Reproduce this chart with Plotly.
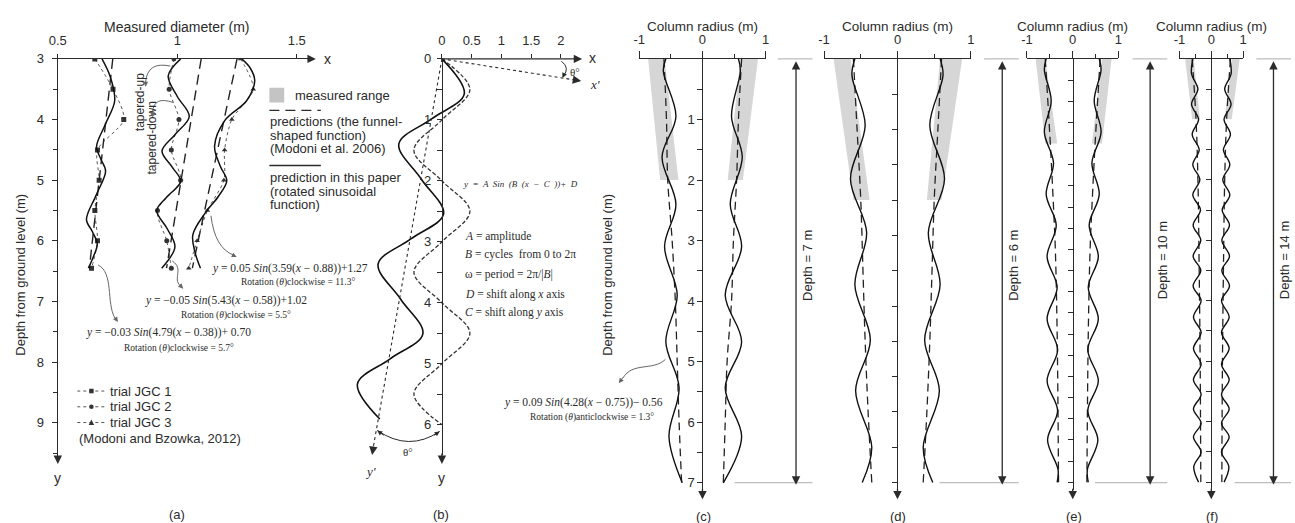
import plotly.graph_objects as go

W, H = 1295, 523

# ================= DATA =================
# ---- panel (a): measured diameter (m) vs depth (m) ----
a_meas_depth = [3.0, 3.5, 4.0, 4.5, 5.0, 5.5, 6.0, 6.45]
a_jgc1_meas = [0.655, 0.731, 0.776, 0.666, 0.673, 0.655, 0.666, 0.641]
a_jgc2_meas = [0.986, 0.966, 1.007, 0.975, 1.014, 0.917, 0.956, 0.975]
a_jgc3_meas = [1.265, 1.318, 1.228, 1.198, 1.195, 1.126, 1.083, 1.048]

a_fun_depth = [3.0, 6.45]
a_jgc1_fun = [0.73, 0.632]
a_jgc2_fun = [1.10, 0.955]
a_jgc3_fun = [1.25, 1.063]

a_jgc1_sin_depth = [3.0, 3.3, 3.69, 4.07, 4.45, 4.65, 4.85, 5.25, 5.65, 5.85, 6.05, 6.25, 6.45]
a_jgc1_sin = [0.685, 0.72, 0.738, 0.70, 0.662, 0.68, 0.70, 0.66, 0.62, 0.645, 0.665, 0.65, 0.628]
a_jgc2_sin_depth = [3.0, 3.28, 3.62, 3.95, 4.25, 4.52, 4.78, 5.02, 5.27, 5.5, 5.8, 6.1, 6.45]
a_jgc2_sin = [1.014, 0.962, 1.0, 1.05, 0.99, 0.936, 0.978, 1.014, 0.958, 0.914, 0.958, 0.99, 0.935]
a_jgc3_sin_depth = [3.0, 3.15, 3.36, 3.69, 4.01, 4.44, 4.77, 5.01, 5.26, 5.55, 5.9, 6.2, 6.45]
a_jgc3_sin = [1.27, 1.305, 1.324, 1.29, 1.2, 1.156, 1.18, 1.207, 1.173, 1.115, 1.065, 1.075, 1.097]

a_xticks = [0.5, 1, 1.5]
a_xticklabels = ["0.5", "1", "1.5"]
a_yticks = [3, 4, 5, 6, 7, 8, 9]

# ---- panel (b): definition sketch ----
b_dash_y = [0, 0.5, 1, 1.5, 2, 2.5, 3, 3.5, 4, 4.5, 5, 5.5, 6]
b_dash_x = [0, 0.47, 0, -0.47, 0, 0.47, 0, -0.47, 0, 0.47, 0, -0.47, 0]
b_sol_y = [0, 0.574, 0.985, 1.395, 1.97, 2.544, 2.954, 3.365, 3.939, 4.51, 4.92, 5.334, 5.908]
b_sol_x = [0, 0.376, -0.174, -0.724, -0.348, 0.028, -0.522, -1.072, -0.696, -0.32, -0.87, -1.42, -1.044]
b_xticks = [0, 0.5, 1, 1.5, 2]
b_xticklabels = ["0", "0.5", "1", "1.5", "2"]
b_yticks = [0, 1, 2, 3, 4, 5, 6]

# ---- panel (c): depth 7 m ----
c_gray_depth = [0, 2]
c_gray_left_outer = [-0.86, -0.67]
c_gray_left_inner = [-0.60, -0.38]
c_gray_right_inner = [0.60, 0.40]
c_gray_right_outer = [0.88, 0.64]
c_dash_depth = [0, 1, 2, 3, 4, 5, 6, 7]
c_dash_left = [-0.61, -0.57, -0.55, -0.48, -0.43, -0.40, -0.37, -0.33]
c_dash_right = [0.62, 0.57, 0.54, 0.49, 0.46, 0.39, 0.36, 0.33]
c_sol_depth = [0, 0.2, 0.95, 1.62, 2.4, 3.1, 3.9, 4.67, 5.43, 6.24, 7.0]
c_sol_left = [-0.58, -0.62, -0.42, -0.64, -0.42, -0.60, -0.40, -0.58, -0.37, -0.53, -0.32]
c_sol_right = [0.57, 0.60, 0.46, 0.63, 0.44, 0.62, 0.36, 0.62, 0.36, 0.62, 0.33]

# ---- panel (d): depth 6 m ----
d_gray_depth = [0, 2]
d_gray_left_outer = [-0.87, -0.60]
d_gray_left_inner = [-0.64, -0.38]
d_gray_right_inner = [0.58, 0.40]
d_gray_right_outer = [0.88, 0.60]
d_dash_depth = [0, 1, 2, 3, 4, 5, 6]
d_dash_left = [-0.60, -0.55, -0.50, -0.47, -0.44, -0.40, -0.35]
d_dash_right = [0.60, 0.55, 0.50, 0.47, 0.44, 0.40, 0.35]
d_sol_depth = [0, 0.23, 0.94, 1.7, 2.46, 3.2, 3.98, 4.7, 5.5, 6.0]
d_sol_left = [-0.58, -0.62, -0.44, -0.64, -0.42, -0.58, -0.37, -0.57, -0.35, -0.48]
d_sol_right = [0.58, 0.62, 0.44, 0.64, 0.42, 0.58, 0.37, 0.57, 0.35, 0.48]

# ---- panel (e): depth 10 m ----
e_gray_depth = [0, 2]
e_gray_left_outer = [-0.81, -0.60]
e_gray_left_inner = [-0.60, -0.34]
e_gray_right_inner = [0.64, 0.42]
e_gray_right_outer = [0.85, 0.64]
e_dash_depth = [0, 2, 3.5, 4.5, 6.5, 10]
e_dash_left = [-0.60, -0.49, -0.42, -0.38, -0.34, -0.31]
e_dash_right = [0.60, 0.49, 0.42, 0.38, 0.34, 0.31]
e_sol_depth = [0, 0.26, 0.99, 1.73, 2.46, 3.2, 3.93, 4.67, 5.4, 6.14, 6.87, 7.6, 8.31, 9.0, 9.7, 10.0]
e_sol_left = [-0.58, -0.62, -0.47, -0.62, -0.42, -0.58, -0.36, -0.56, -0.34, -0.56, -0.33, -0.56, -0.33, -0.55, -0.32, -0.34]
e_sol_right = [0.58, 0.62, 0.47, 0.62, 0.42, 0.58, 0.36, 0.56, 0.34, 0.56, 0.33, 0.56, 0.33, 0.55, 0.32, 0.34]

# ---- panel (f): depth 14 m ----
f_gray_depth = [0, 2]
f_gray_left_outer = [-0.82, -0.60]
f_gray_left_inner = [-0.55, -0.36]
f_gray_right_inner = [0.64, 0.42]
f_gray_right_outer = [0.89, 0.64]
f_dash_depth = [0, 2, 4, 7, 10, 14]
f_dash_left = [-0.60, -0.48, -0.42, -0.38, -0.35, -0.33]
f_dash_right = [0.60, 0.48, 0.42, 0.38, 0.35, 0.33]
f_sol_depth = [0, 0.5, 1.0, 1.5, 2.0, 2.5, 3.0, 3.5, 4.0, 4.5, 5.0, 5.5, 6.0, 6.53, 7.0, 7.51, 8.0, 8.54,
               9.05, 9.58, 10.1, 10.61, 11.1, 11.58, 12.05, 12.51, 13.0, 13.49, 14.0]
f_sol_left = [-0.58, -0.62, -0.42, -0.62, -0.40, -0.60, -0.38, -0.58, -0.36, -0.58, -0.34, -0.57, -0.33, -0.57,
              -0.33, -0.57, -0.32, -0.56, -0.32, -0.56, -0.32, -0.56, -0.32, -0.56, -0.32, -0.56, -0.32, -0.55, -0.40]
f_sol_right = [0.58, 0.62, 0.42, 0.62, 0.40, 0.60, 0.38, 0.58, 0.36, 0.58, 0.34, 0.57, 0.33, 0.57,
               0.33, 0.57, 0.32, 0.56, 0.32, 0.56, 0.32, 0.56, 0.32, 0.56, 0.32, 0.56, 0.32, 0.55, 0.40]

col_xticks = [-1, 0, 1]
col_xticklabels = ["-1", "0", "1"]

# ================= STYLE / LAYOUT HELPERS =================
SANS = "Liberation Sans, Arial, sans-serif"
SERIF = "Liberation Serif, Times New Roman, serif"
INK = "#2b2b2b"
GRAYFILL = "#d6d6d6"
GRAYLINE = "#bdbdbd"


def fx(p):
    return p / W


def fy(p):
    return 1 - p / H


fig = go.Figure()
layout = dict(width=W, height=H, margin=dict(l=0, r=0, t=0, b=0),
              paper_bgcolor="white", plot_bgcolor="rgba(0,0,0,0)", showlegend=False,
              font=dict(family=SANS, size=13, color=INK))
annotations = []
shapes = []


def axes(xpx, x0px, xsc, x0v, ypx, y0px, ysc, y0v):
    xr = [x0v + (xpx[0] - x0px) / xsc, x0v + (xpx[1] - x0px) / xsc]
    yr = [y0v + (ypx[1] - y0px) / ysc, y0v + (ypx[0] - y0px) / ysc]
    return dict(domain=[fx(xpx[0]), fx(xpx[1])], range=xr), dict(domain=[fy(ypx[1]), fy(ypx[0])], range=yr)


def base_ax():
    return dict(showgrid=False, zeroline=False, linecolor=INK, linewidth=1.3, tickcolor=INK,
                tickwidth=1.2, tickfont=dict(size=13, color=INK, family=SANS), fixedrange=True)


def text(x, y, s, size=13, xanchor="center", font=SANS, angle=0, color=INK):
    annotations.append(dict(x=fx(x), y=fy(y), xref="paper", yref="paper", text=s, showarrow=False,
                            xanchor=xanchor, yanchor="middle", textangle=angle,
                            font=dict(size=size, family=font, color=color)))


def arrow(x0, y0, x1, y1, width=1.3, size=1.4, color=INK, both=False, head=2):
    annotations.append(dict(x=fx(x1), y=fy(y1), xref="paper", yref="paper", ax=x0 - x1, ay=y0 - y1,
                            axref="pixel", ayref="pixel", text="", showarrow=True, arrowhead=head,
                            startarrowhead=head, arrowsize=size, startarrowsize=size,
                            arrowwidth=width, arrowcolor=color,
                            arrowside="end+start" if both else "end", standoff=0, startstandoff=0))


def line(x0, y0, x1, y1, color=INK, width=1.3, dash="solid"):
    shapes.append(dict(type="line", xref="paper", yref="paper", x0=fx(x0), y0=fy(y0), x1=fx(x1), y1=fy(y1),
                       line=dict(color=color, width=width, dash=dash)))


def path(pts_cmd, color=INK, width=1.0, dash="solid"):
    s = ""
    for cmd, pts in pts_cmd:
        s += cmd + " " + " ".join(f"{fx(a):.5f},{fy(b):.5f}" for a, b in pts) + " "
    shapes.append(dict(type="path", xref="paper", yref="paper", path=s.strip(),
                       line=dict(color=color, width=width, dash=dash)))


def add_line(xa, ya, x, y, color="#111", width=1.4, dash="solid", spline=True, mode="lines",
             marker=None, smoothing=1.0):
    fig.add_trace(go.Scatter(x=x, y=y, xaxis=xa, yaxis=ya, mode=mode, hoverinfo="skip",
                             line=dict(color=color, width=width, dash=dash,
                                       shape="spline" if spline else "linear", smoothing=smoothing),
                             marker=marker or {}))


# ================= PANEL (a) =================
xa, ya = axes((49.3, 305), 49.3, 241.4, 0.5, (52.7, 459), 52.7, 61.6, 3.0)
xa.update(base_ax(), side="top", anchor="y", showline=True, ticks="outside", ticklen=4,
          tickvals=a_xticks, ticktext=a_xticklabels, ticklabelstandoff=4)
ya.update(base_ax(), anchor="x", showline=True, ticks="outside", ticklen=5, tickvals=a_yticks,
          ticklabelstandoff=5,
          minor=dict(tickvals=[v + 0.5 for v in a_yticks], ticklen=4, tickcolor=INK, ticks="outside"))
layout["xaxis"], layout["yaxis"] = xa, ya

for meas, sym in ((a_jgc1_meas, "square"), (a_jgc2_meas, "circle"), (a_jgc3_meas, "triangle-up")):
    add_line("x", "y", meas, a_meas_depth, color="#555", width=1.0, dash="dot", mode="lines+markers",
             marker=dict(symbol=sym, size=5, color="#333"), smoothing=0.8)
for fun in (a_jgc1_fun, a_jgc2_fun, a_jgc3_fun):
    add_line("x", "y", fun, a_fun_depth, color="#222", width=1.4, dash="10px,6px", spline=False)
for d, v in ((a_jgc1_sin_depth, a_jgc1_sin), (a_jgc2_sin_depth, a_jgc2_sin), (a_jgc3_sin_depth, a_jgc3_sin)):
    add_line("x", "y", v, d, color="#111", width=1.5)

arrow(300, 52.7, 310, 52.7, size=1.3)
arrow(49.3, 455, 49.3, 464, size=1.3)
text(170, 20, "Measured diameter (m)", size=14)
text(316, 53, "x", xanchor="left", size=14)
text(49.3, 478, "y", size=14)
text(12, 272, "Depth from ground level (m)", angle=-90)
text(132, 97, "tapered-up", size=12, angle=-90)
text(144, 133, "tapered-down", size=12, angle=-90)

# legend (top right of a)
shapes.append(dict(type="rect", xref="paper", yref="paper", x0=fx(263), x1=fx(278), y0=fy(97), y1=fy(82),
                   fillcolor="#c4c4c4", line=dict(width=0)))
text(287, 90, "measured range", xanchor="left")
line(263, 105, 315, 105, dash="10px,6px", width=1.4)
text(262, 116, "predictions (the funnel-", xanchor="left")
text(262, 130, "shaped function)", xanchor="left")
text(262, 144, "(Modoni et al. 2006)", xanchor="left")
line(263, 161, 315, 161, width=1.4)
text(262, 173, "prediction in this paper", xanchor="left")
text(262, 187, "(rotated sinusoidal", xanchor="left")
text(262, 201, "function)", xanchor="left")

# legend (bottom of a)
for i, (lab, sym) in enumerate((("trial JGC 1", "sq"), ("trial JGC 2", "ci"), ("trial JGC 3", "tr"))):
    yy = 390 + i * 16
    line(69, yy, 97, yy, color="#555", width=1.0, dash="dot")
    if sym == "sq":
        shapes.append(dict(type="rect", xref="paper", yref="paper", x0=fx(81), x1=fx(85.5), y0=fy(yy + 2.3),
                           y1=fy(yy - 2.3), fillcolor="#333", line=dict(width=0)))
    elif sym == "ci":
        shapes.append(dict(type="circle", xref="paper", yref="paper", x0=fx(81), x1=fx(85.5), y0=fy(yy + 2.3),
                           y1=fy(yy - 2.3), fillcolor="#333", line=dict(width=0)))
    else:
        shapes.append(dict(type="path", xref="paper", yref="paper",
                           path=f"M {fx(80.5)},{fy(yy + 2.5)} L {fx(86)},{fy(yy + 2.5)} L {fx(83.2)},{fy(yy - 3)} Z",
                           fillcolor="#333", line=dict(width=0)))
    text(100, yy, lab, xanchor="left")
text(69, 438, "(Modoni and Bzowka, 2012)", xanchor="left")

# equations (a)
text(284, 266, "<i>y</i> = 0.05 <i>Sin</i>(3.59(<i>x</i> − 0.88))+1.27", size=11.5, font=SERIF)
text(292, 280, "Rotation (<i>θ</i>)clockwise = 11.3°", size=9.5, font=SERIF)
text(219, 298, "<i>y</i> = −0.05 <i>Sin</i>(5.43(<i>x</i> − 0.58))+1.02", size=11.5, font=SERIF)
text(229, 313, "Rotation (<i>θ</i>)clockwise = 5.5°", size=9.5, font=SERIF)
text(161, 331, "<i>y</i> = −0.03 <i>Sin</i>(4.79(<i>x</i> − 0.38))+ 0.70", size=11.5, font=SERIF)
text(172, 347, "Rotation (<i>θ</i>)clockwise = 5.7°", size=9.5, font=SERIF)

# curved arrows (a)
path([("M", [(163, 60)]), ("Q", [(140, 55), (138, 76)])], color="#666")
arrow(138, 74, 138, 81, width=1.0, size=1.0, color="#666")
path([("M", [(166, 97)]), ("Q", [(146, 90), (145, 107)])], color="#666")
arrow(145, 105, 145, 112, width=1.0, size=1.0, color="#666")
path([("M", [(204, 212)]), ("Q", [(208, 245), (227, 252)])], color="#666")
arrow(224, 251, 230, 254, width=1.0, size=1.0, color="#666")
path([("M", [(165, 258)]), ("C", [(177, 266), (165, 276), (173, 283)])], color="#666")
arrow(171, 281, 176, 286, width=1.0, size=1.0, color="#666")
path([("M", [(90, 262)]), ("C", [(106, 270), (98, 300), (107, 316)])], color="#666")
arrow(106, 314, 110, 320, width=1.0, size=1.0, color="#666")
text(170, 515, "(a)")

# ================= PANEL (b) =================
xb, yb = axes((340, 575), 437.3, 60.1, 0.0, (52.7, 455), 52.7, 61.9, 0.0)
xb.update(base_ax(), side="top", anchor="y2", showline=False, ticks="outside", ticklen=4,
          tickvals=b_xticks, ticktext=b_xticklabels, ticklabelstandoff=4)
yb.update(base_ax(), anchor="free", position=fx(437.3), showline=True, ticks="outside", ticklen=5,
          tickvals=b_yticks, ticklabelstandoff=3,
          minor=dict(tickvals=[v + 0.5 for v in b_yticks[:-1]], ticklen=5, tickcolor=INK, ticks="outside"))
layout["xaxis2"], layout["yaxis2"] = xb, yb
add_line("x2", "y2", b_dash_x, b_dash_y, color="#333", width=1.3, dash="4px,2px")
add_line("x2", "y2", b_sol_x, b_sol_y, color="#111", width=1.6)

line(437.3, 52.7, 572, 52.7, width=1.3)
arrow(570, 52.7, 579, 52.7, size=1.3)
line(437.3, 52.7, 572, 74.2, width=1.1, dash="dot")
arrow(570, 73.9, 578, 75.2, size=1.3)
line(437.3, 52.7, 368, 447, width=1.1, dash="dot")
arrow(368.3, 445, 366.8, 455, size=1.3)
arrow(437.3, 452, 437.3, 464, size=1.3)
text(584, 52, "x", xanchor="left", size=14)
text(585, 79, "<i>x'</i>", xanchor="left", font=SERIF, size=13)
path([("M", [(558, 55)]), ("Q", [(567, 62), (560, 70)])], width=1.0)
arrow(561, 68, 559, 72, width=1.0, size=1.0)
text(572, 66, "θ°", size=11, font=SERIF)
path([("M", [(372, 430)]), ("Q", [(404, 452), (435, 431)])], width=1.0)
arrow(380, 436, 372, 430, width=1.0, size=1.0)
arrow(428, 436, 435, 431, width=1.0, size=1.0)
text(403, 452, "θ°", size=11, font=SERIF)
text(365, 472, "<i>y'</i>", font=SERIF, size=13)
text(437.3, 478, "y", size=14)
text(457, 180, "<i>y  =  A  Sin  (B  (x  −  C  ))+  D</i>", size=9, font=SERIF, xanchor="left")
text(459, 233, "<i>A</i> = amplitude", size=11.5, font=SERIF, xanchor="left")
text(459, 251, "<i>B</i> = cycles  from 0 to 2π", size=11.5, font=SERIF, xanchor="left")
text(459, 272, "ω = period = 2π/|<i>B</i>|", size=11.5, font=SERIF, xanchor="left")
text(459, 292, "<i>D</i> = shift along <i>x</i> axis", size=11.5, font=SERIF, xanchor="left")
text(459, 310, "<i>C</i> = shift along <i>y</i> axis", size=11.5, font=SERIF, xanchor="left")
text(436, 515, "(b)")

# ================= PANELS (c)-(f) =================
col_panels = [
    dict(n=3, xl=636.7, xr=764.3, x0=700.5, xs=63.8, ys=61.5, depth=7, step=0.5, labels=True,
         gd=c_gray_depth, glo=c_gray_left_outer, gli=c_gray_left_inner, gri=c_gray_right_inner,
         gro=c_gray_right_outer, dd=c_dash_depth, dl=c_dash_left, dr=c_dash_right,
         sd=c_sol_depth, sl=c_sol_left, sr=c_sol_right, arx=795, gtop=(776.7, 811.7), gbot=(733, 811.7),
         lab="Depth = 7 m", labx=807, laby=262, tag="(c)"),
    dict(n=4, xl=823.3, xr=971.7, x0=897.5, xs=74.2, ys=71.7, depth=6, step=0.5, labels=False,
         gd=d_gray_depth, glo=d_gray_left_outer, gli=d_gray_left_inner, gri=d_gray_right_inner,
         gro=d_gray_right_outer, dd=d_dash_depth, dl=d_dash_left, dr=d_dash_right,
         sd=d_sol_depth, sl=d_sol_left, sr=d_sol_right, arx=1003.3, gtop=(985, 1020), gbot=(940, 1020),
         lab="Depth = 6 m", labx=1015, laby=262, tag="(d)"),
    dict(n=5, xl=1028.3, xr=1120.7, x0=1074.5, xs=46.2, ys=43.0, depth=10, step=0.5, labels=False,
         gd=e_gray_depth, glo=e_gray_left_outer, gli=e_gray_left_inner, gri=e_gray_right_inner,
         gro=e_gray_right_outer, dd=e_dash_depth, dl=e_dash_left, dr=e_dash_right,
         sd=e_sol_depth, sl=e_sol_left, sr=e_sol_right, arx=1152.7, gtop=(1135, 1170), gbot=(1097, 1170),
         lab="Depth = 10 m", labx=1165, laby=257, tag="(e)"),
    dict(n=6, xl=1182.3, xr=1246.7, x0=1214.5, xs=32.2, ys=30.7, depth=14, step=1.0, labels=False,
         gd=f_gray_depth, glo=f_gray_left_outer, gli=f_gray_left_inner, gri=f_gray_right_inner,
         gro=f_gray_right_outer, dd=f_dash_depth, dl=f_dash_left, dr=f_dash_right,
         sd=f_sol_depth, sl=f_sol_left, sr=f_sol_right, arx=1277.3, gtop=(1260, 1295), gbot=(1238, 1295),
         lab="Depth = 14 m", labx=1288, laby=257, tag="(f)"),
]

for p in col_panels:
    n = p["n"]
    xk, yk = f"x{n}", f"y{n}"
    xax, yax = axes((p["xl"], p["xr"]), p["x0"], p["xs"], 0.0, (52.7, 490), 52.7, p["ys"], 0.0)
    xax.update(base_ax(), side="top", anchor=yk, showline=True, ticks="outside", ticklen=7,
               tickvals=col_xticks, ticktext=col_xticklabels, ticklabelstandoff=2,
               minor=dict(tickvals=[-0.5, 0.5], ticklen=4, tickcolor=INK, ticks="outside"))
    nt = int(round(p["depth"] / p["step"]))
    tv = [round(p["step"] * (i + 1), 2) for i in range(nt)]
    if p["labels"]:
        yax.update(base_ax(), anchor="free", position=fx(p["x0"]), showline=True, ticks="outside", ticklen=5,
                   tickvals=tv, ticktext=[str(int(v)) if float(v).is_integer() else "" for v in tv])
    else:
        yax.update(base_ax(), anchor="free", position=fx(p["x0"]), showline=True, ticks="outside", ticklen=5,
                   tickvals=tv, showticklabels=False)
    layout[f"xaxis{n}"], layout[f"yaxis{n}"] = xax, yax
    for outer, inner in ((p["glo"], p["gli"]), (p["gro"], p["gri"])):
        fig.add_trace(go.Scatter(x=outer + inner[::-1], y=p["gd"] + p["gd"][::-1], xaxis=xk, yaxis=yk,
                                 mode="lines", fill="toself", fillcolor=GRAYFILL, line=dict(width=0),
                                 hoverinfo="skip"))
    add_line(xk, yk, p["dl"], p["dd"], color="#222", width=1.3, dash="8px,5px")
    add_line(xk, yk, p["dr"], p["dd"], color="#222", width=1.3, dash="8px,5px")
    add_line(xk, yk, p["sl"], p["sd"], color="#111", width=1.4)
    add_line(xk, yk, p["sr"], p["sd"], color="#111", width=1.4)
    arrow(p["x0"], 488, p["x0"], 500, size=1.3)
    line(p["gtop"][0], 52.7, p["gtop"][1], 52.7, color=GRAYLINE, width=1.3)
    line(p["gbot"][0], 483, p["gbot"][1], 483, color=GRAYLINE, width=1.3)
    arrow(p["arx"], 480, p["arx"], 55, size=1.3, both=True)
    text(p["labx"], p["laby"], p["lab"], angle=-90)
    text(p["x0"], 20, "Column radius (m)", size=13.5)
    text(p["x0"] + 1, 517, p["tag"])

text(605, 272, "Depth from ground level (m)", angle=-90)
text(580, 402, "<i>y</i> = 0.09 <i>Sin</i>(4.28(<i>x</i> − 0.75))− 0.56", size=11.5, font=SERIF)
text(589, 417, "Rotation (<i>θ</i>)anticlockwise = 1.3°", size=9.5, font=SERIF)
path([("M", [(663, 358)]), ("C", [(650, 370), (630, 360), (620, 377)])], color="#666")
arrow(621, 375, 616, 382, width=1.0, size=1.0, color="#666")

layout["annotations"] = annotations
layout["shapes"] = shapes
fig.update_layout(**layout)
fig.write_html("out.html")
